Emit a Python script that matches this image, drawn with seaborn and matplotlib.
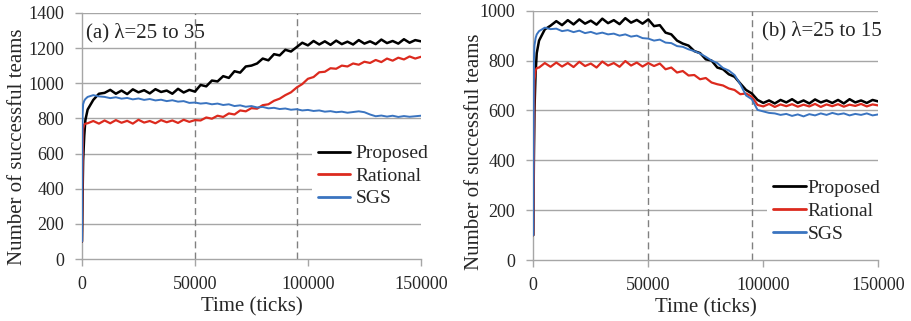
import numpy as np
import pandas as pd
import matplotlib
matplotlib.use("Agg")
import matplotlib.pyplot as plt
import seaborn as sns

# ---------------- data ----------------
time_early = [0, 250, 500, 1000, 1500]
time_main = list(range(2500, 150001, 2500))
time = time_early + time_main

a_proposed = [100, 350, 560, 700, 790,
              850, 905, 940,
              945, 962, 940, 958, 938, 965, 948, 960, 942, 966, 950, 958, 940, 968, 947, 962, 952,
              990, 982, 1015, 1010, 1040, 1030, 1068, 1060, 1095, 1100, 1112, 1140, 1130, 1165, 1158, 1190, 1180, 1205,
              1230, 1215, 1240, 1220, 1238, 1218, 1242, 1222, 1236, 1220, 1245, 1225, 1238, 1222, 1248, 1228, 1240, 1225, 1250, 1230, 1245, 1238]
a_rational = [100, 500, 740, 765, 770,
              772, 785, 770,
              788, 772, 790, 775, 786, 770, 792, 776, 785, 772, 790, 778, 788, 774, 792, 780, 790,
              788, 805, 798, 815, 808, 828, 822, 845, 840, 858, 855, 875, 880, 900, 912, 932, 948, 975,
              995, 1025, 1035, 1062, 1065, 1085, 1082, 1100, 1095, 1112, 1105, 1122, 1115, 1132, 1120, 1140, 1128, 1145, 1135, 1152, 1140, 1150]
a_sgs = [100, 820, 880, 900, 910,
         922, 932, 925,
         922, 915, 920, 912, 916, 908, 913, 905, 910, 902, 906, 898, 903, 895, 898, 888, 890,
         884, 887, 880, 884, 876, 880, 870, 874, 866, 870, 862, 865, 857, 860, 853, 856, 849, 852,
         845, 848, 842, 845, 838, 841, 835, 838, 832, 836, 840, 835, 822, 812, 816, 810, 815, 808, 813, 809, 812, 815]

b_proposed = [100, 400, 600, 750, 830,
              880, 925, 940,
              958, 942, 962, 945, 965, 948, 960, 944, 968, 950, 962, 946, 970, 952, 963, 948, 965,
              938, 942, 912, 905, 880, 868, 860, 838, 830, 805, 800, 772, 765, 745, 735, 708, 682, 668,
              642, 630, 640, 628, 642, 632, 645, 630, 640, 628, 644, 632, 640, 630, 642, 628, 645, 632, 640, 630, 642, 636]
b_rational = [100, 450, 720, 760, 770,
              772, 790, 775,
              792, 776, 790, 774, 795, 778, 788, 772, 796, 780, 790, 775, 798, 780, 792, 776, 790,
              778, 788, 765, 772, 752, 758, 740, 742, 725, 730, 712, 705, 700, 688, 682, 665, 668, 655,
              622, 616, 626, 614, 624, 617, 625, 615, 623, 616, 626, 614, 624, 617, 625, 615, 623, 618, 626, 616, 624, 620]
b_sgs = [100, 800, 860, 890, 905,
         918, 932, 926,
         928, 918, 922, 914, 920, 910, 915, 907, 912, 905, 908, 900, 905, 896, 900, 890, 888,
         880, 884, 872, 870, 858, 855, 845, 838, 828, 815, 800, 790, 770, 760, 742, 705, 660, 645,
         602, 596, 590, 588, 582, 586, 578, 584, 576, 585, 580, 588, 582, 590, 584, 588, 580, 586, 582, 588, 580, 584]

series_names = ["Proposed", "Rational", "SGS"]
change_points = [50000, 95000]
x_ticks = [0, 50000, 100000, 150000]
panel_titles = ["(a) λ=25 to 35", "(b) λ=25 to 15"]

# ---------------- style ----------------
sns.set_theme(style="white")
plt.rcParams["font.family"] = ["Liberation Serif", "DejaVu Serif"]

palette = {"Proposed": "#000000", "Rational": "#dc2a1e", "SGS": "#3a74c0"}
widths = {"Proposed": 1.8, "Rational": 1.6, "SGS": 1.4}
grid_c = "#a6a6a6"
FS_TICK = 13
FS_LABEL = 15
FS_LEG = 14


def make_df(p, r, s):
    frames = []
    for name, vals in zip(series_names, [p, r, s]):
        frames.append(pd.DataFrame({"time": time, "value": vals, "series": name}))
    return pd.concat(frames, ignore_index=True)


fig = plt.figure(figsize=(9.11, 3.21), dpi=100)
ax1 = fig.add_axes([0.090, 0.193, 0.372, 0.767])
ax2 = fig.add_axes([0.5854, 0.190, 0.3787, 0.7767])

configs = [
    (ax1, make_df(a_proposed, a_rational, a_sgs), 1400, list(range(0, 1401, 200)), panel_titles[0]),
    (ax2, make_df(b_proposed, b_rational, b_sgs), 1000, list(range(0, 1001, 200)), panel_titles[1]),
]

for i, (ax, df, ymax, yticks, title) in enumerate(configs):
    for yt in yticks[1:]:
        ax.axhline(yt, color=grid_c, lw=1.0, zorder=0)
    for cp in change_points:
        ax.axvline(cp, color="#808080", lw=1.0, ls=(0, (5, 3)), zorder=1)
    for name in series_names:
        sns.lineplot(data=df[df["series"] == name], x="time", y="value",
                     color=palette[name], ax=ax, lw=widths[name], legend=False, zorder=3)
    ax.set_xlim(0, 150000)
    ax.set_ylim(0, ymax)
    ax.set_xticks(x_ticks)
    ax.set_xticklabels([str(v) for v in x_ticks])
    ax.set_yticks(yticks)
    ax.set_yticklabels([str(v) for v in yticks])
    ax.tick_params(axis="both", labelsize=FS_TICK, direction="out", length=5,
                   color=grid_c, width=1, bottom=True, left=True)
    ax.tick_params(axis="x", pad=7)
    ax.tick_params(axis="y", pad=8)
    ax.set_xlabel("Time (ticks)", fontsize=FS_LABEL, labelpad=3)
    ax.set_ylabel("Number of successful teams", fontsize=FS_LABEL)
    for side in ["top", "right"]:
        ax.spines[side].set_visible(False)
    for side in ["left", "bottom"]:
        ax.spines[side].set_color(grid_c)
        ax.spines[side].set_linewidth(1.0)
    handles = [plt.Line2D([], [], color=palette[n], lw=2) for n in series_names]
    if i == 0:
        ax.yaxis.set_label_coords(-0.161, 0.455)
        ax.text(0.012, 0.96, title, transform=ax.transAxes, fontsize=FS_LABEL,
                ha="left", va="top")
        leg = ax.legend(handles, series_names, loc="center left",
                        bbox_to_anchor=(0.679, 0.337), fontsize=FS_LEG, frameon=True,
                        handlelength=1.65, handletextpad=0.3, labelspacing=0.25,
                        borderpad=0.3, borderaxespad=0)
    else:
        ax.yaxis.set_label_coords(-0.143, 0.434)
        ax.text(1.01, 0.96, title, transform=ax.transAxes, fontsize=FS_LABEL,
                ha="right", va="top")
        leg = ax.legend(handles, series_names, loc="center left",
                        bbox_to_anchor=(0.677, 0.197), fontsize=FS_LEG, frameon=True,
                        handlelength=1.7, handletextpad=0.08, labelspacing=0.27,
                        borderpad=0.3, borderaxespad=0)
    leg.get_frame().set_facecolor("white")
    leg.get_frame().set_edgecolor("none")
    leg.get_frame().set_alpha(1.0)
    leg.set_zorder(5)

fig.savefig("out.png", dpi=100)
